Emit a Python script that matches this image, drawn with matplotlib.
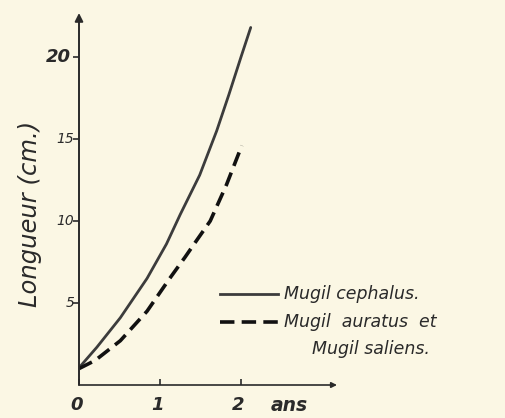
import matplotlib
matplotlib.use("Agg")
import matplotlib.pyplot as plt
from matplotlib.lines import Line2D

# growth curves (age in years, length in cm)
cephalus_age = [0, 0.22, 0.51, 0.84, 1.08, 1.25, 1.49, 1.70, 1.85, 2.0, 2.12]
cephalus_len = [1.05, 2.3, 4.1, 6.5, 8.6, 10.4, 12.8, 15.5, 17.7, 20.0, 21.8]

auratus_age = [0, 0.2, 0.51, 0.84, 1.12, 1.31, 1.45, 1.62, 1.82, 2.01]
auratus_len = [1.0, 1.5, 2.7, 4.5, 6.5, 7.8, 8.8, 10.0, 12.2, 14.6]

x_ticks = [0, 1, 2]
y_ticks = [5, 10, 15, 20]
y_tick_labels = ["5", "10", "15", "20"]

BG = "#fbf7e4"
INK = "#2a2a2a"

fig = plt.figure(figsize=(5.05, 4.18), dpi=100, facecolor=BG)
ax = fig.add_axes([79 / 505, 33 / 418, 258 / 505, 372 / 418])
ax.set_facecolor(BG)

ax.plot(cephalus_age, cephalus_len, color="#3c3c3c", lw=2.0,
        solid_capstyle="round", solid_joinstyle="round")
ax.plot(auratus_age, auratus_len, color="#111111", lw=2.6,
        dashes=(4, 2))

ax.set_xlim(0, 258 / 81)
ax.set_ylim(0, 372 / 16.4)

for s in ["top", "right", "left", "bottom"]:
    ax.spines[s].set_visible(False)

# axes drawn as arrows
ax.annotate("", xy=(0, 1), xytext=(0, 0), xycoords="axes fraction",
            arrowprops=dict(arrowstyle="-|>", color=INK, lw=1.4,
                            mutation_scale=12, shrinkA=0, shrinkB=0))
ax.annotate("", xy=(1, 0), xytext=(0, 0), xycoords="axes fraction",
            arrowprops=dict(arrowstyle="-|>", color=INK, lw=1.2,
                            mutation_scale=8, shrinkA=0, shrinkB=0))

ax.set_xticks(x_ticks)
ax.set_xticklabels([])
ax.set_yticks(y_ticks)
ax.set_yticklabels([])
ax.tick_params(axis="x", direction="in", length=4, width=1.2, color=INK)
ax.tick_params(axis="y", direction="out", length=4, width=1.2, color=INK)

# hand-lettered tick labels
for v in x_ticks:
    ax.text(v - 0.03, -0.7, str(v), ha="center", va="top", fontsize=13,
            style="italic", weight="bold", color=INK)
ax.text(2.6, -0.7, "ans", ha="center", va="top", fontsize=13.5,
        style="italic", weight="bold", color=INK)
for v, lab in zip(y_ticks, y_tick_labels):
    big = v == 20
    ax.text(-0.1 if big else -0.06, v, lab, ha="right", va="center",
            fontsize=13 if big else 10, style="italic",
            weight="bold" if big else "normal", color=INK)

fig.text(30 / 505, 1 - 214 / 418, "Longueur (cm.)", rotation=90,
         ha="center", va="center", fontsize=17.5, style="italic", color=INK)

# legend drawn by hand, as in the original
def fx(px):
    return px / 505

def fy(py):
    return 1 - py / 418

fig.add_artist(Line2D([fx(220), fx(278)], [fy(294), fy(294)], color="#3c3c3c",
                      lw=2.0))
fig.add_artist(Line2D([fx(220), fx(278)], [fy(322), fy(322)], color="#111111",
                      lw=2.6, dashes=(4, 2)))
fig.text(fx(284), fy(294), "Mugil cephalus.", ha="left", va="center",
         fontsize=12.5, style="italic", color=INK)
fig.text(fx(284), fy(322), "Mugil  auratus  et", ha="left", va="center",
         fontsize=12.5, style="italic", color=INK)
fig.text(fx(312), fy(349), "Mugil saliens.", ha="left", va="center",
         fontsize=12.5, style="italic", color=INK)

fig.savefig("out.png", dpi=100, facecolor=BG)
